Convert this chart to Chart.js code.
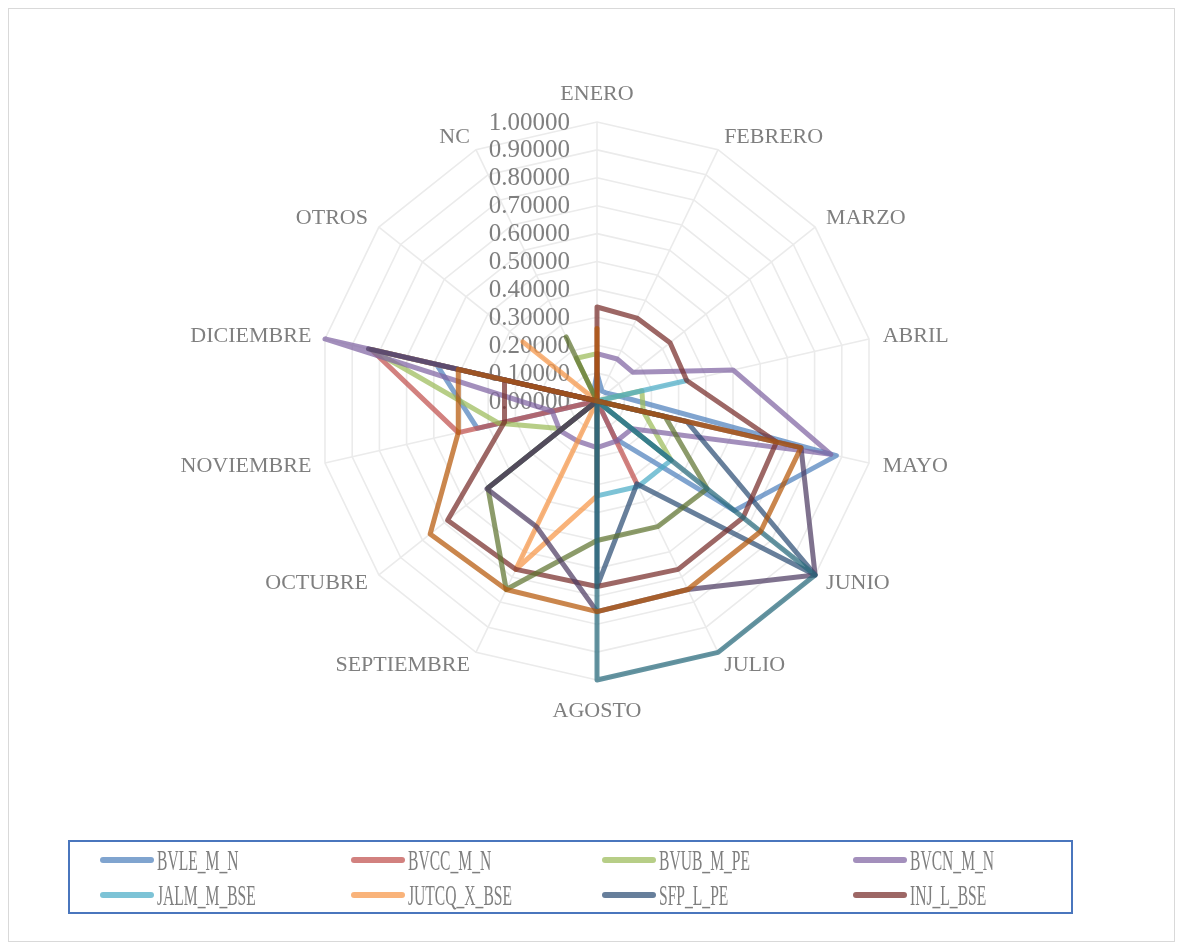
<!DOCTYPE html>
<html lang="es">
<head>
<meta charset="utf-8">
<title>Distribución mensual</title>
<script src="https://cdn.jsdelivr.net/npm/chart.js@4.4.1/dist/chart.umd.min.js"></script>
<style>
  html, body { margin: 0; padding: 0; background: #ffffff; }
  #wrap { position: relative; width: 1182px; height: 950px; overflow: hidden; background: #ffffff; }
  #frame { position: absolute; left: 8px; top: 8px; width: 1167px; height: 934px; border: 1px solid #d9d9d9; box-sizing: border-box; }
  #radar { position: absolute; left: 0; top: 0; }
  #legend { position: absolute; left: 68px; top: 840px; width: 1005px; height: 74px; border: 2px solid #4a76bd; box-sizing: border-box; }
  .item { position: absolute; height: 32px; display: flex; align-items: center; }
  .swatch { width: 54px; height: 6px; border-radius: 3px; flex: none; }
  .label { font-family: "Liberation Serif", serif; font-size: 30px; color: #7f7f7f; white-space: nowrap;
           transform: scaleX(0.52); transform-origin: left center; margin-left: 3px; }
</style>
</head>
<body>
<div id="wrap">
  <div id="frame"></div>
  <canvas id="radar" width="1182" height="950"></canvas>
  <div id="legend"></div>
</div>
<script>
// Categories around the radar (clockwise from the top)
const categories = ['ENERO', 'FEBRERO', 'MARZO', 'ABRIL', 'MAYO', 'JUNIO', 'JULIO',
                    'AGOSTO', 'SEPTIEMBRE', 'OCTUBRE', 'NOVIEMBRE', 'DICIEMBRE', 'OTROS', 'NC'];

// Radial tick values and their printed labels
const tickValues = [0, 0.1, 0.2, 0.3, 0.4, 0.5, 0.6, 0.7, 0.8, 0.9, 1.0];
const tickLabels = ['0.00000', '0.10000', '0.20000', '0.30000', '0.40000', '0.50000',
                    '0.60000', '0.70000', '0.80000', '0.90000', '1.00000'];

// Series values, one per category
const bvleMN   = [0.10, 0.04, 0.045, 0.08, 0.88, 0.63, 0.15, 0, 0, 0, 0.44, 0.59, 0, 0.03];
const bvccMN   = [0, 0, 0, 0, 0, 0, 0.33, 0, 0, 0, 0.51, 0.83, 0, 0];
const bvubMPE  = [0.17, 0, 0, 0.165, 0.17, 0.34, 0, 0, 0, 0.16, 0.36, 0.83, 0, 0.17];
const bvcnMN   = [0.17, 0.167, 0.165, 0.50, 0.86, 0.16, 0.16, 0.167, 0.16, 0.17, 0.165, 1.0, 0, 0];
const jalmMBSE = [0, 0, 0, 0.33, 0, 0.34, 0.34, 0.34, 0, 0, 0, 0, 0, 0];
const jutcqXBSE= [0, 0, 0, 0, 0, 0, 0, 0.34, 0.67, 0, 0, 0, 0.34, 0];
const sfpLPE   = [0, 0, 0, 0, 0.33, 1.0, 0.33, 0.665, 0, 0.50, 0, 0, 0, 0];
const injLBSE  = [0.337, 0.33, 0.335, 0.33, 0.66, 0.67, 0.67, 0.665, 0.67, 0.685, 0.34, 0.34, 0, 0];
const serie9   = [0, 0, 0, 0, 0.25, 0.505, 0.50, 0.50, 0.75, 0.50, 0, 0, 0, 0.255];
const serie10  = [0, 0, 0, 0, 0.75, 1.0, 0.75, 0.755, 0.50, 0.505, 0, 0.84, 0, 0];
const serie11  = [0, 0, 0, 0, 0, 1.0, 1.0, 1.0, 0, 0, 0, 0, 0, 0];
const serie12  = [0.26, 0, 0, 0, 0.75, 0.75, 0.75, 0.755, 0.75, 0.765, 0.51, 0.51, 0, 0];

const seriesNames = ['BVLE_M_N', 'BVCC_M_N', 'BVUB_M_PE', 'BVCN_M_N', 'JALM_M_BSE', 'JUTCQ_X_BSE',
                     'SFP_L_PE', 'INJ_L_BSE', 'Serie 9', 'Serie 10', 'Serie 11', 'Serie 12'];
const seriesValues = [bvleMN, bvccMN, bvubMPE, bvcnMN, jalmMBSE, jutcqXBSE,
                      sfpLPE, injLBSE, serie9, serie10, serie11, serie12];
const seriesColors = ['#4F81BD', '#C0504D', '#9BBB59', '#8064A2', '#4BACC6', '#F79646',
                      '#2C4D75', '#772C2A', '#5F7530', '#4D3B62', '#276A7C', '#B65708'];
const legendCount = 8;

function rgba(hex, a) {
  const n = parseInt(hex.slice(1), 16);
  return `rgba(${(n >> 16) & 255}, ${(n >> 8) & 255}, ${n & 255}, ${a})`;
}
const ALPHA = 0.72;

// Axis captions and value ticks, painted under the series lines
const radarText = {
  id: 'radarText',
  beforeDatasetsDraw(chart) {
    const s = chart.scales.r;
    const ctx = chart.ctx;
    ctx.save();
    ctx.fillStyle = '#7f7f7f';
    ctx.font = '25px "Liberation Serif"';
    ctx.textAlign = 'right';
    ctx.textBaseline = 'middle';
    tickValues.forEach((v, k) => {
      const r = s.getDistanceFromCenterForValue(v);
      ctx.fillText(tickLabels[k], s.xCenter - 27, s.yCenter - r + 1);
    });
    ctx.font = '22px "Liberation Serif"';
    const n = chart.data.labels.length;
    chart.data.labels.forEach((lab, i) => {
      const p = s.getPointPosition(i, s.drawingArea + 14);
      const deg = Math.round(i * 360 / n);
      let y = p.y;
      if (deg === 0) { ctx.textAlign = 'center'; y = p.y - 14; }
      else if (deg === 180) { ctx.textAlign = 'center'; y = p.y + 17; }
      else if (deg < 180) { ctx.textAlign = 'left'; }
      else { ctx.textAlign = 'right'; }
      ctx.fillText(lab, p.x, y);
    });
    ctx.restore();
  }
};

const datasets = seriesNames.map((name, i) => ({
  label: name,
  data: seriesValues[i],
  borderColor: rgba(seriesColors[i], ALPHA),
  backgroundColor: rgba(seriesColors[i], ALPHA),
  borderWidth: 5,
  borderJoinStyle: 'round',
  borderCapStyle: 'round',
  fill: false,
  pointRadius: 0,
  pointHoverRadius: 0,
  order: -i
}));

const chart = new Chart(document.getElementById('radar'), {
  type: 'radar',
  data: { labels: categories, datasets },
  options: {
    responsive: false,
    animation: false,
    devicePixelRatio: 1,
    layout: { padding: { left: 318, right: 306, top: 122, bottom: 270 } },
    plugins: { legend: { display: false }, tooltip: { enabled: false } },
    elements: { line: { tension: 0 } },
    scales: {
      r: {
        min: 0,
        max: 1,
        ticks: { display: false, stepSize: 0.1 },
        pointLabels: { display: false },
        grid: { color: '#ebebeb', lineWidth: 1.6 },
        angleLines: { color: '#ebebeb', lineWidth: 1.6 }
      }
    }
  },
  plugins: [radarText]
});

// Legend box: first eight series in four columns
const legend = document.getElementById('legend');
chart.data.datasets.slice(0, legendCount).forEach((ds, i) => {
  const col = i % 4, row = Math.floor(i / 4);
  const item = document.createElement('div');
  item.className = 'item';
  item.style.left = (30 + 251 * col) + 'px';
  item.style.top = (2 + 35 * row) + 'px';
  const sw = document.createElement('div');
  sw.className = 'swatch';
  sw.style.background = ds.borderColor;
  const tx = document.createElement('span');
  tx.className = 'label';
  tx.textContent = ds.label;
  item.appendChild(sw);
  item.appendChild(tx);
  legend.appendChild(item);
});
</script>
</body>
</html>
